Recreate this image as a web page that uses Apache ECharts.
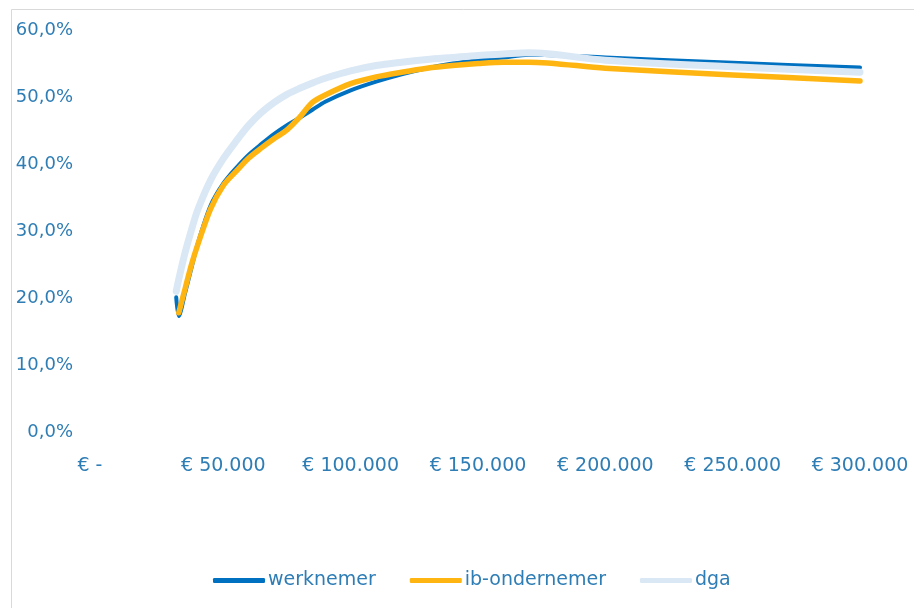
<!DOCTYPE html>
<html>
<head>
<meta charset="utf-8">
<script src="https://cdn.jsdelivr.net/npm/echarts@6/dist/echarts.min.js"></script>
<style>
  html, body { margin: 0; padding: 0; background: #ffffff; }
  #chart { width: 914px; height: 608px; }
</style>
</head>
<body>
<div id="chart"></div>
<script>
// ---- data ----
const salaries = [31500, 32500, 35000, 37500, 40000, 45000, 50000, 55000, 60000, 65000, 70000, 75000, 80000, 85000, 90000, 100000, 110000, 120000, 130000, 140000, 150000, 160000, 170000, 200000, 250000, 300000];
const werknemer = [20.1, 17.3, 20.8, 24.5, 28.2, 33.8, 37.1, 39.4, 41.4, 43.0, 44.5, 45.8, 46.9, 48.1, 49.3, 51.0, 52.3, 53.4, 54.3, 55.0, 55.5, 55.9, 56.3, 55.9, 55.1, 54.4];
const ibOndernemer = [null, 17.8, 21.4, 25.0, 28.0, 33.3, 36.8, 38.9, 40.9, 42.4, 43.8, 45.1, 47.0, 49.2, 50.3, 52.0, 53.0, 53.7, 54.3, 54.7, 55.0, 55.2, 55.2, 54.3, 53.3, 52.4];
const dga = [21.0, 22.8, 26.8, 30.2, 33.2, 37.6, 40.8, 43.4, 45.8, 47.7, 49.2, 50.4, 51.3, 52.1, 52.8, 53.9, 54.7, 55.2, 55.6, 55.9, 56.2, 56.4, 56.6, 55.5, 54.5, 53.7];
const seriesNames = ['werknemer', 'ib-ondernemer', 'dga'];
const seriesColors = ['#0070C0', '#FFB511', '#DAE8F5'];
const seriesWidths = [4, 5.5, 7];

function pairs(ys) { return salaries.map((x, i) => [x, ys[i]]); }

const textColor = '#2E7DB5';
const fontFamily = '"DejaVu Sans", sans-serif';

function euro(v) {
  if (v === 0) return '€ -  ';
  return '€ ' + String(v).replace(/\B(?=(\d{3})+(?!\d))/g, '.');
}

const chart = echarts.init(document.getElementById('chart'), null, { renderer: 'canvas' });
const seriesData = [werknemer, ibOndernemer, dga];
chart.setOption({
  animation: false,
  backgroundColor: '#ffffff',
  graphic: [{
    type: 'rect', silent: true,
    shape: { x: 11.5, y: 9.5, width: 1000, height: 1000 },
    style: { fill: 'none', stroke: '#D9D9D9', lineWidth: 1 }
  }],
  grid: { left: 96, right: 54, top: 30, bottom: 176, containLabel: false, outerBoundsMode: 'none' },
  xAxis: {
    type: 'value', min: 0, max: 300000, interval: 50000,
    axisLine: { show: false }, axisTick: { show: false }, splitLine: { show: false },
    axisLabel: { formatter: euro, color: textColor, fontSize: 19, fontFamily: fontFamily, margin: 25 }
  },
  yAxis: {
    type: 'value', min: 0, max: 60, interval: 10,
    axisLine: { show: false }, axisTick: { show: false }, splitLine: { show: false },
    axisLabel: { formatter: v => v.toFixed(1).replace('.', ',') + '%', color: textColor, fontSize: 18, fontFamily: fontFamily, margin: 23 }
  },
  legend: {
    left: 208, top: 566,
    icon: 'roundRect', itemWidth: 52, itemHeight: 5, itemGap: 34,
    textStyle: { color: textColor, fontSize: 19, fontFamily: fontFamily, padding: [0, 0, 0, -2] },
    data: seriesNames
  },
  series: seriesNames.map((name, i) => ({
    name: name,
    type: 'line',
    data: pairs(seriesData[i]),
    smooth: 0.3,
    connectNulls: true,
    symbol: 'none',
    color: seriesColors[i],
    lineStyle: { color: seriesColors[i], width: seriesWidths[i], cap: 'round', join: 'round' },
    z: 2 + i
  }))
});
</script>
</body>
</html>
